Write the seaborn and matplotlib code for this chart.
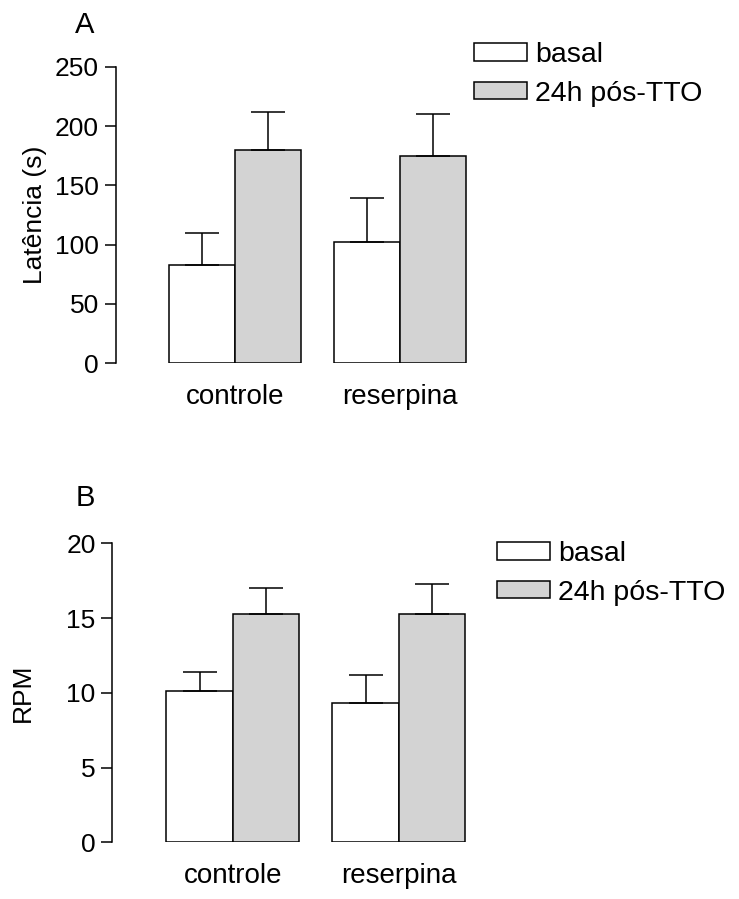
import pandas as pd
import numpy as np
import matplotlib
matplotlib.use("Agg")
import matplotlib.pyplot as plt
import seaborn as sns

# data
groups = ["controle", "reserpina"]
conditions = ["basal", "24h pós-TTO"]
latency_mean = {"basal": [83, 102], "24h pós-TTO": [180, 175]}
latency_sem = {"basal": [27, 37], "24h pós-TTO": [32, 35]}
rpm_mean = {"basal": [10.1, 9.3], "24h pós-TTO": [15.3, 15.3]}
rpm_sem = {"basal": [1.3, 1.9], "24h pós-TTO": [1.7, 2.0]}

colors = {"basal": "white", "24h pós-TTO": "#d3d3d3"}

sns.set_style("ticks", {"axes.edgecolor": "black", "text.color": "black",
                        "axes.labelcolor": "black", "xtick.color": "black",
                        "ytick.color": "black"})
plt.rcParams["font.family"] = ["Liberation Sans", "DejaVu Sans"]

W, H = 739, 899
fig = plt.figure(figsize=(W / 100, H / 100), dpi=100)


def make_df(means):
    rows = []
    for cond in conditions:
        for g, v in zip(groups, means[cond]):
            rows.append({"grupo": g, "condicao": cond, "valor": v})
    return pd.DataFrame(rows)


def panel(rect, means, sems, ylim, yticks, ylabel, letter, letter_xy, label_x, leg_xy):
    ax = fig.add_axes(rect)
    df = make_df(means)
    sns.barplot(data=df, x="grupo", y="valor", hue="condicao", order=groups,
                hue_order=conditions, palette=colors, edgecolor="black",
                linewidth=1.1, width=0.8, errorbar=None, ax=ax, legend=False)
    # one-sided error bars on top of every bar
    for cond, cont in zip(conditions, ax.containers):
        for patch, m, e in zip(cont.patches, means[cond], sems[cond]):
            xc = patch.get_x() + patch.get_width() / 2
            ax.errorbar(xc, m, yerr=[[0], [e]], fmt="none", ecolor="black",
                        elinewidth=1.1, capsize=12, capthick=1.1, zorder=3)
    ax.set_ylim(*ylim)
    ax.set_yticks(yticks)
    ax.set_xlabel("")
    ax.set_ylabel(ylabel, fontsize=19)
    ax.yaxis.set_label_coords(label_x, 0.5)
    sns.despine(ax=ax, bottom=True)
    ax.spines["left"].set_linewidth(1.1)
    ax.tick_params(axis="y", length=8, width=1.1, labelsize=19, pad=4)
    ax.tick_params(axis="x", length=0, labelsize=20, pad=15)
    fig.text(letter_xy[0] / W, 1 - letter_xy[1] / H, letter, fontsize=21,
             ha="center", va="center")
    handles = [plt.Rectangle((0, 0), 1, 1, facecolor=colors[c], edgecolor="black",
                             linewidth=1.1) for c in conditions]
    fig.legend(handles, conditions, loc="upper left",
               bbox_to_anchor=(leg_xy[0] / W, 1 - leg_xy[1] / H),
               frameon=False, fontsize=20.5, handlelength=1.85, handleheight=0.55,
               handletextpad=0.3, labelspacing=0.45, borderpad=0, borderaxespad=0)
    return ax


axA = panel([115.7 / W, 1 - 363.3 / H, 364 / W, 296.6 / H],
            latency_mean, latency_sem, (0, 250), [0, 50, 100, 150, 200, 250],
            "Latência (s)", "A", (85, 25), -0.19, (474, 42))
axA.set_xlim(-0.723, 1.485)

axB = panel([112.3 / W, 1 - 842.3 / H, 368 / W, 299 / H],
            rpm_mean, rpm_sem, (0, 20), [0, 5, 10, 15, 20],
            "RPM", "B", (85, 498), -0.21, (497, 541))
axB.set_xlim(-0.725, 1.49)

fig.savefig("out.png", dpi=100)
